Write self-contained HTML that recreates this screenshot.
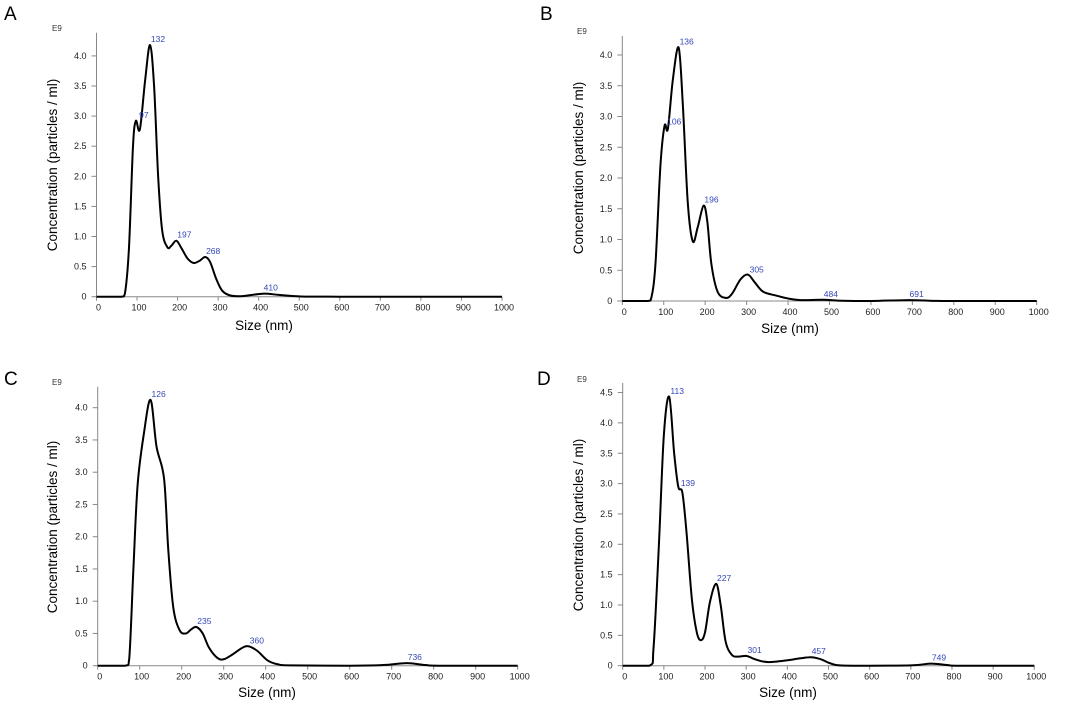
<!DOCTYPE html>
<html><head><meta charset="utf-8"><style>
html,body{margin:0;padding:0;background:#fff;width:1065px;height:705px;overflow:hidden}
svg{display:block;font-family:"Liberation Sans",sans-serif}
</style></head><body>
<svg id="fig" width="1065" height="705" viewBox="0 0 1065 705"></svg>
<script>
// ---- data ----
const xTicks=[0,100,200,300,400,500,600,700,800,900,1000];
const yTicksABC=[0,0.5,1.0,1.5,2.0,2.5,3.0,3.5,4.0];
const yTicksD=[0,0.5,1.0,1.5,2.0,2.5,3.0,3.5,4.0,4.5];
const sizeA=[0,60,70,80,90,97,107,120,132,142,152,162,175,185,197,210,225,240,255,268,280,295,310,330,360,410,450,500,600,1000];
const concA=[0,0,0.05,0.8,2.5,2.92,2.78,3.6,4.18,3.5,2.0,1.1,0.82,0.85,0.93,0.8,0.63,0.56,0.6,0.66,0.58,0.3,0.1,0.02,0.01,0.05,0.03,0.005,0,0];
const peaksA=[97,132,197,268,410];
const sizeB=[0,60,70,80,92,102,110,122,136,146,158,170,182,196,205,215,230,250,265,285,303,320,340,370,400,430,484,530,600,691,750,800,1000];
const concB=[0,0,0.05,0.6,2.2,2.85,2.8,3.6,4.12,3.2,1.6,0.97,1.2,1.55,1.3,0.6,0.15,0.05,0.12,0.35,0.43,0.3,0.15,0.09,0.04,0.015,0.02,0.005,0,0.015,0.003,0,0];
const peaksB=[106,136,196,305,484,691];
const sizeC=[0,65,75,85,95,110,126,140,158,168,180,195,210,222,235,250,265,285,300,320,345,360,380,405,430,460,600,680,736,780,820,1000];
const concC=[0,0,0.1,1.5,2.8,3.6,4.12,3.4,2.9,1.8,0.9,0.55,0.5,0.56,0.6,0.5,0.28,0.12,0.1,0.17,0.28,0.3,0.23,0.08,0.02,0.005,0,0.01,0.04,0.01,0,0];
const peaksC=[126,235,360,736];
const sizeD=[0,65,75,88,100,113,125,135,145,155,168,180,190,200,212,227,238,250,265,280,301,320,340,360,400,430,457,480,500,520,560,700,749,790,820,1000];
const concD=[0,0,0.3,2.0,3.8,4.43,3.5,2.95,2.85,2.2,1.1,0.55,0.42,0.55,1.05,1.35,1.0,0.4,0.18,0.15,0.16,0.11,0.07,0.06,0.09,0.12,0.14,0.11,0.05,0.01,0,0.005,0.035,0.01,0,0];
const peaksD=[113,139,227,301,457,749];

const panels=[
 {id:'a',letter:'A',lx:4,ly:20,x0:96.5,x1:502,y0:296.7,perUnit:60.2,top:32.7,yt:yTicksABC,xs:sizeA,ys:concA,pk:peaksA,e9:[52,31],yt_x:57,yt_y:165,xt_x:264,xt_y:330},
 {id:'b',letter:'B',lx:540,ly:20,x0:622.3,x1:1036.7,y0:301,perUnit:61.5,top:36,yt:yTicksABC,xs:sizeB,ys:concB,pk:peaksB,e9:[577,34],yt_x:583,yt_y:168,xt_x:790,xt_y:333},
 {id:'c',letter:'C',lx:4,ly:385,x0:97.7,x1:517.7,y0:665.7,perUnit:64.5,top:386.7,yt:yTicksABC,xs:sizeC,ys:concC,pk:peaksC,e9:[52,385],yt_x:57,yt_y:527,xt_x:267,xt_y:697},
 {id:'d',letter:'D',lx:537,ly:385,x0:622.7,x1:1034.3,y0:665.7,perUnit:60.7,top:383,yt:yTicksD,xs:sizeD,ys:concD,pk:peaksD,e9:[577,382],yt_x:583,yt_y:525,xt_x:788,xt_y:697}
];
const NS='http://www.w3.org/2000/svg';
const svg=document.getElementById('fig');
function mk(tag,attrs,parent,text){const e=document.createElementNS(NS,tag);for(const k in attrs)e.setAttribute(k,attrs[k]);if(text!==undefined)e.textContent=text;(parent||svg).appendChild(e);return e;}
function interp(xs,ys,x){
 for(let i=0;i<xs.length-1;i++){if(x>=xs[i]&&x<=xs[i+1]){const t=(x-xs[i])/(xs[i+1]-xs[i]);return ys[i]+(ys[i+1]-ys[i])*t;}}return 0;}
panels.forEach(p=>{
 const g=mk('g',{});
 
 
 const sx=v=>p.x0+(p.x1-p.x0)*v/1000;
 const sy=v=>p.y0-v*p.perUnit;
 const L=mk('text',{x:p.lx,y:p.ly,'font-size':19,fill:'#000'},g,p.letter);
 
 
 const E=mk('text',{x:p.e9[0],y:p.e9[1],'font-size':8,fill:'#333'},g,'E9');
 
 
 const ya=mk('line',{x1:p.x0,x2:p.x0,y1:p.top,y2:p.y0,stroke:'#888','stroke-width':1},g);
 
 
 const xa=mk('line',{x1:p.x0,x2:p.x1,y1:p.y0,y2:p.y0,stroke:'#888','stroke-width':1},g);
 
 
 p.yt.forEach(v=>{
  mk('line',{x1:p.x0-5,x2:p.x0,y1:sy(v),y2:sy(v),stroke:'#888'},g);
  const t=mk('text',{x:p.x0-10,y:sy(v)+3,'font-size':9,'text-anchor':'end',fill:'#222'},g,v===0?'0':v.toFixed(1));
  
  
 });
 xTicks.forEach(v=>{
  mk('line',{x1:sx(v),x2:sx(v),y1:p.y0,y2:p.y0+4,stroke:'#888'},g);
  const t=mk('text',{x:sx(v)+2,y:p.y0+14,'font-size':9,'text-anchor':'middle',fill:'#222'},g,String(v));
  
  
 });
 const yt=mk('text',{x:p.yt_x,y:p.yt_y,'font-size':13.5,'text-anchor':'middle',fill:'#000',transform:`rotate(-90 ${p.yt_x} ${p.yt_y})`},g,'Concentration (particles / ml)');
 
 
 const xt=mk('text',{x:p.xt_x,y:p.xt_y,'font-size':13.5,'text-anchor':'middle',fill:'#000'},g,'Size (nm)');
 
 
 const pts=p.xs.map((x,i)=>[sx(x),sy(p.ys[i])]);
 let d='M'+pts[0][0]+','+pts[0][1];
 for(let i=0;i<pts.length-1;i++){
  const p0=pts[Math.max(0,i-1)],p1=pts[i],p2=pts[i+1],p3=pts[Math.min(pts.length-1,i+2)];
  let c1y=Math.min(p1[1]+(p2[1]-p0[1])/6,p.y0),c2y=Math.min(p2[1]-(p3[1]-p1[1])/6,p.y0);
  d+=` C${p1[0]+(p2[0]-p0[0])/6},${c1y} ${p2[0]-(p3[0]-p1[0])/6},${c2y} ${p2[0]},${p2[1]}`;
 }
 const c=mk('path',{d:d,fill:'none',stroke:'#000','stroke-width':2,'stroke-linejoin':'round'},g);
 
 
 p.pk.forEach(v=>{
  const yv=interp(p.xs,p.ys,v);
  const t=mk('text',{x:sx(v)+8,y:sy(yv)-3,'font-size':8.5,'text-anchor':'middle',fill:'#3346b8'},g,String(v));
  
  
 });
});
</script>
</body></html>
